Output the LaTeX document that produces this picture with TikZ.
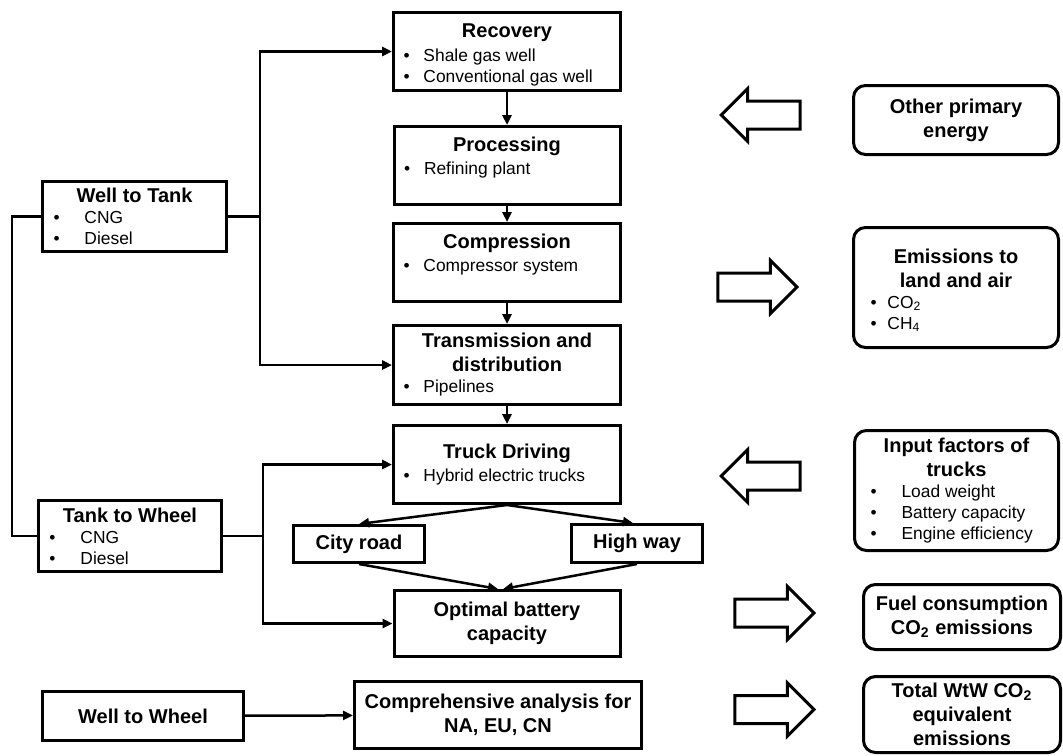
\documentclass[tikz,border=0pt]{standalone}
\usepackage{fontspec}
\setmainfont{Liberation Sans}
\usetikzlibrary{positioning,shapes.arrows,arrows.meta}

\setlength{\parskip}{0pt}
\newcommand{\ttlfont}{\fontsize{10}{12}\selectfont\bfseries}
\newcommand{\txtfont}{\fontsize{8.7}{10.5}\selectfont}
\newcommand{\ttl}[1]{{\centering\ttlfont #1\par}}
\newcommand{\itm}[3][5pt]{{\txtfont\noindent\hspace*{#1}\makebox[#2][l]{\textbullet}#3\par}}
\newcommand{\cbox}[4][c]{\parbox[c][#3][#1]{#2}{#4}}

\begin{document}
\begin{tikzpicture}[x=0.5pt,y=-0.5pt,
    stage/.style={draw, rectangle, line width=1.5pt, inner sep=0pt},
    side/.style={stage, rounded corners=6pt},
    flow/.style={line width=1.25pt, -{Triangle[length=5pt,width=4.5pt]}},
    link/.style={line width=1.25pt},
    hollow/.style={draw, line width=1.5pt, single arrow, minimum height=39.5pt,
      minimum width=25pt, inner sep=6.25pt, single arrow head extend=6.25pt,
      single arrow head indent=0pt}]
  \useasboundingbox (0,0) rectangle (1063,755);

  % well to tank chain
  \node[stage] (rec) at (507,51.5) {\cbox[t]{113.5pt}{39pt}{\vspace*{5.5pt}\ttl{Recovery}\vspace{1.5pt}
      \itm{10pt}{Shale gas well}\itm{10pt}{Conventional gas well}}};
  \node[stage] (proc) at (507,165.5) {\cbox[t]{113pt}{39pt}{\vspace*{5.5pt}\ttl{Processing}\vspace{1pt}
      \itm{10pt}{Refining plant}}};
  \node[stage] (comp) at (507,262.5) {\cbox[t]{113.5pt}{39pt}{\vspace*{5.5pt}\ttl{Compression}\vspace{1pt}
      \itm{10pt}{Compressor system}}};
  \node[stage] (trans) at (507,365) {\cbox{113.5pt}{39.5pt}{\ttl{Transmission and\\distribution}
      \itm{10pt}{Pipelines}}};

  % tank to wheel chain
  \node[stage] (truck) at (507,464.5) {\cbox{113.5pt}{39pt}{\ttl{Truck Driving}\vspace{1pt}
      \itm{10pt}{Hybrid electric trucks}}};
  \node[stage] (city) at (359,544) {\cbox{65.5pt}{18.5pt}{\ttl{City road}}};
  \node[stage] (high) at (637,543.5) {\cbox{65.5pt}{19pt}{\ttl{High way}}};
  \node[stage] (opt) at (507,623.5) {\cbox{113pt}{33pt}{\ttl{Optimal battery\\capacity}}};
  \node[stage] (compr) at (498,715) {\cbox{143.5pt}{33.5pt}{\ttl{Comprehensive analysis for\\NA, EU, CN}}};

  % stages on the left
  \node[stage] (wtt) at (134.5,216.5) {\cbox{92pt}{35pt}{\ttl{Well to Tank}
      \itm[5.5pt]{15.5pt}{CNG}\itm[5.5pt]{15.5pt}{Diesel}}};
  \node[stage] (ttw) at (130,536) {\cbox{91.5pt}{35.5pt}{\ttl{Tank to Wheel}
      \itm[5.5pt]{15.5pt}{CNG}\itm[5.5pt]{15.5pt}{Diesel}}};
  \node[stage] (wtw) at (143,716) {\cbox{100.5pt}{24.5pt}{\ttl{Well to Wheel}}};

  % inputs and outputs
  \node[side] (other) at (956,120) {\cbox{102.5pt}{34.5pt}{\ttl{Other primary\\energy}}};
  \node[side] (emis) at (956,287.5) {\cbox{102.5pt}{60pt}{\vspace{3pt}\ttl{Emissions to\\land and air}
      \itm[8.5pt]{8.5pt}{CO\textsubscript{2}}\itm[8.5pt]{8.5pt}{CH\textsubscript{4}}}};
  \node[side] (input) at (956.5,490.5) {\cbox{102pt}{60pt}{\ttl{Input factors of\\trucks}
      \itm[8pt]{15.5pt}{Load weight}\itm[8pt]{15.5pt}{Battery capacity}\itm[8pt]{15.5pt}{Engine efficiency}}};
  \node[side] (fuel) at (962,617) {\cbox{98.5pt}{32.5pt}{\ttl{Fuel consumption\\CO\textsubscript{2} emissions}}};
  \node[side] (total) at (962,714.5) {\cbox{98.5pt}{38pt}{\ttl{Total WtW CO\textsubscript{2}\\equivalent\\emissions}}};

  \node[hollow, shape border rotate=180, anchor=tip] (aother) at (719,115) {};
  \node[hollow, anchor=tip] (aemis) at (799,287) {};
  \node[hollow, shape border rotate=180, anchor=tip] (ainput) at (719,476) {};
  \node[hollow, anchor=tip] (afuel) at (816,613) {};
  \node[hollow, anchor=tip] (atotal) at (816,709.5) {};

  \coordinate (lbus) at (12,216.5);
  \coordinate (wbus) at (260,216.5);
  \coordinate (tbus) at (263,536);

  \draw[link] (wtt.west) -- (lbus) |- (ttw.west);
  \draw[link] (wtt.east) -- (wbus);
  \draw[flow] (wbus) |- (rec.west);
  \draw[flow] (wbus) |- (trans.west);
  \draw[link] (ttw.east) -- (tbus);
  \draw[flow] (tbus) |- (truck.west);
  \draw[flow] (tbus) |- (opt.west);

  \draw[flow] (rec) -- (proc);
  \draw[flow] (proc) -- (comp);
  \draw[flow] (comp) -- (trans);
  \draw[flow] (trans) -- (truck);
  \draw[flow] (truck.south) -- (city.north);
  \draw[flow] (truck.south) -- ([xshift=-2pt]high.north);
  \draw[flow] (city.south) -- ([xshift=-4.5pt]opt.north);
  \draw[flow] (high.south) -- ([xshift=-2pt]opt.north);
  \draw[flow] (wtw) -- (compr);
\end{tikzpicture}
\end{document}
